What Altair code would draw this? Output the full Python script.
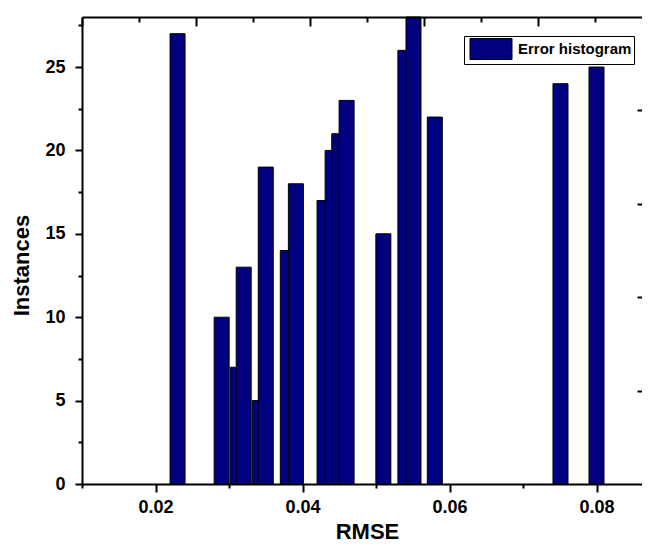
import altair as alt
import pandas as pd

# ---- data ----
rmse = [0.0230, 0.0290, 0.0312, 0.0320, 0.0342, 0.0350, 0.0380, 0.0391, 0.0430,
        0.0441, 0.0450, 0.0460, 0.0510, 0.0540, 0.0551, 0.0580, 0.0751, 0.0800]
instances = [27, 10, 7, 13, 5, 19, 14, 18, 17, 20, 21, 23, 15, 26, 28, 22, 24, 25]
series_name = "Error histogram"

x_major = [0.02, 0.04, 0.06, 0.08]
x_minor = [0.01, 0.03, 0.05, 0.07]
y_major = [0, 5, 10, 15, 20, 25]
y_minor = [2.5, 7.5, 12.5, 17.5, 22.5, 27.5]
opp_major = [0.0, 0.2, 0.4, 0.6, 0.8]
opp_minor = [0.1, 0.3, 0.5, 0.7, 0.9]
opp_y_major = [0.2, 0.4, 0.6, 0.8]

X_DOMAIN = [0.01, 0.08619]
Y_DOMAIN = [0, 28]
OPP_X_DOMAIN = [0, 0.98246]
W, H = 560, 467
FONT = "Liberation Sans"
NAVY = "#000080"

df = pd.DataFrame({"rmse": rmse, "instances": instances,
                   "series": [series_name] * len(rmse)})
dummy_main = pd.DataFrame({"x": [X_DOMAIN[0]], "y": [Y_DOMAIN[0]]})
dummy_opp = pd.DataFrame({"x": [0.0], "y": [0.0]})

base_axis = dict(domainColor="black", domainWidth=2, tickColor="black",
                 tickWidth=2, grid=False, zindex=1,
                 labelFont=FONT, labelFontWeight="bold", labelFontSize=18,
                 labelColor="black", titleFont=FONT, titleFontWeight="bold",
                 titleFontSize=22, titleColor="black")

xs = alt.Scale(domain=X_DOMAIN, nice=False, zero=False, padding=0)
ys = alt.Scale(domain=Y_DOMAIN, nice=False, zero=False, padding=0)
oxs = alt.Scale(domain=OPP_X_DOMAIN, nice=False, zero=False, padding=0)
oys = alt.Scale(domain=[0, 1], nice=False, zero=False, padding=0)

bars = alt.Chart(df).mark_bar(size=15, stroke="black", strokeWidth=1, opacity=1).encode(
    x=alt.X("rmse:Q", scale=xs,
            axis=alt.Axis(orient="bottom", values=x_major, format=".2f",
                          tickSize=8, labelPadding=6, title="RMSE",
                          titleX=285, titleY=54, titleBaseline="alphabetic",
                          titleAlign="center", **base_axis)),
    y=alt.Y("instances:Q", scale=ys,
            axis=alt.Axis(orient="left", values=y_major, format="d",
                          tickSize=7, labelPadding=10, title="Instances",
                          titleX=-54, titleY=248, titleAngle=270,
                          titleAlign="center", titleBaseline="alphabetic",
                          **base_axis)),
    color=alt.Color("series:N", scale=alt.Scale(range=[NAVY]),
                    legend=alt.Legend(title=None, orient="none",
                                      legendX=382, legendY=19,
                                      fillColor="white", strokeColor="black",
                                      padding=2,
                                      symbolType="M-2,-1H2V1H-2Z",
                                      symbolSize=441,
                                      symbolStrokeColor="black",
                                      symbolStrokeWidth=1,
                                      symbolOpacity=1,
                                      symbolOffset=14,
                                      labelOffset=16,
                                      labelFont=FONT, labelFontSize=15,
                                      labelFontWeight="bold",
                                      labelColor="black")),
)

no_lab = dict(labels=False, title=None, grid=False, tickColor="black", zindex=1,
              domainColor="black", domainWidth=2)

minor = alt.Chart(dummy_main).mark_point(opacity=0).encode(
    x=alt.X("x:Q", scale=xs,
            axis=alt.Axis(orient="bottom", values=x_minor, tickSize=4,
                          tickWidth=2, domain=False, **no_lab)),
    y=alt.Y("y:Q", scale=ys,
            axis=alt.Axis(orient="left", values=y_minor, tickSize=4,
                          tickWidth=2, domain=False, **no_lab)),
)

opp_maj = alt.Chart(dummy_opp).mark_point(opacity=0).encode(
    x=alt.X("x:Q", scale=oxs,
            axis=alt.Axis(orient="bottom", offset=-H, values=opp_major,
                          tickSize=9, tickWidth=2, domain=True, **no_lab)),
    y=alt.Y("y:Q", scale=oys,
            axis=alt.Axis(orient="left", offset=-W, values=opp_y_major,
                          tickSize=5, tickWidth=2, domain=False, **no_lab)),
)

opp_min = alt.Chart(dummy_opp).mark_point(opacity=0).encode(
    x=alt.X("x:Q", scale=oxs,
            axis=alt.Axis(orient="bottom", offset=-H, values=opp_minor,
                          tickSize=5, tickWidth=2, domain=False, **no_lab)),
    y=alt.Y("y:Q", scale=oys, axis=None),
)

chart = alt.layer(bars, minor, opp_maj, opp_min).resolve_scale(
    x="independent", y="independent"
).properties(
    width=W, height=H,
    autosize=alt.AutoSizeParams(type="none"),
    padding={"left": 74, "top": 9, "right": 0, "bottom": 61},
    background="white",
).configure_view(stroke=None)

chart.save("out.html", embed_options={"renderer": "svg", "actions": False})
